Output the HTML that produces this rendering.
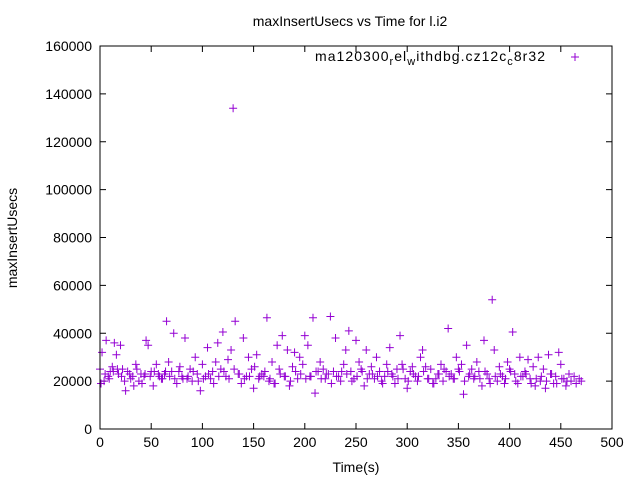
<!DOCTYPE html>
<html><head><meta charset="utf-8"><style>
body{margin:0;background:#fff}
svg{display:block;font-family:"Liberation Sans",sans-serif}
</style></head><body>
<svg id="chart" width="640" height="480" viewBox="0 0 640 480">
<text x="350" y="26" font-size="14" text-anchor="middle">maxInsertUsecs vs Time for l.i2</text>
<text transform="translate(17,238) rotate(-90)" font-size="14" text-anchor="middle">maxInsertUsecs</text>
<text x="356" y="472" font-size="14" text-anchor="middle">Time(s)</text>
<g id="axes"></g>
<g id="points"></g>
<g>
<text x="315" y="61" font-size="14" textLength="230" lengthAdjust="spacing">ma120300<tspan font-size="11" dy="4">r</tspan><tspan dy="-4">el</tspan><tspan font-size="11" dy="4">w</tspan><tspan dy="-4">ithdbg.cz12c</tspan><tspan font-size="11" dy="4">c</tspan><tspan dy="-4">8r32</tspan></text>
<path d="M571 57h8M575 53v8" stroke="#9400d3" stroke-width="1"/>
</g>
<rect x="100" y="46" width="512" height="383" fill="none" stroke="#000" stroke-width="1"/>
</svg>
<script>
const xTicks=[0,50,100,150,200,250,300,350,400,450,500];
const yTicks=[0,20000,40000,60000,80000,100000,120000,140000,160000];
const times=[0,2,4,6,8,10,12,14,16,18,20,22,25,27,30,33,35,38,40,43,45,47,50,52,55,58,60,63,65,67,70,72,75,78,80,83,85,88,90,93,95,98,100,103,105,108,110,113,115,118,120,123,125,128,130,132,135,138,140,143,145,148,150,153,155,158,160,163,165,168,170,173,175,178,180,183,185,188,190,193,195,198,200,203,205,208,210,213,215,218,220,223,225,228,230,233,235,238,240,243,245,248,250,253,255,258,260,263,265,268,270,273,275,278,280,283,285,288,290,293,295,298,300,303,305,308,310,313,315,318,320,323,325,328,330,333,335,338,340,343,345,348,350,353,355,358,360,363,365,368,370,373,375,378,380,383,385,388,390,393,395,398,400,403,405,408,410,413,415,418,420,423,425,428,430,433,435,438,440,443,445,448,450,453,455,458,460,463,465,468,470,
1,5,9,13,17,21,24,29,32,36,41,44,49,53,57,61,64,68,73,77,81,86,91,96,101,106,111,116,121,126,131,136,141,146,151,156,161,166,171,176,181,186,191,196,201,206,211,216,221,226,231,236,241,246,251,256,261,266,271,276,281,286,291,296,301,306,311,316,321,326,331,336,341,346,351,356,361,366,371,376,381,386,391,396,401,406,411,416,421,426,431,436,441,446,451,456,461,466];
const values=[25000,32000,20000,37000,22000,24000,26000,36000,31000,23000,35000,25000,16000,24000,21000,18000,27000,20000,23000,22000,37000,35000,24000,18000,27000,22000,21000,23000,45000,28000,24000,40000,19000,26000,22000,38000,21000,25000,20000,30000,23000,16000,27000,22000,34000,21000,24000,28000,36000,25000,40500,22000,29000,33000,134000,45000,23000,19000,38000,22000,30000,25000,17000,31000,21000,23000,22000,46500,20000,28000,19000,35000,25000,39000,22000,33000,18000,26000,32000,21000,30000,27000,39000,35000,22000,46500,15000,24000,28000,25000,21000,23000,47000,24000,38000,22000,20000,27000,33000,41000,24000,21000,37000,28000,25000,18000,33000,23000,26000,21000,30000,24000,20000,22000,27000,34000,23000,19000,25000,39000,27000,21000,17000,24000,26000,22000,20000,30000,33000,26000,21000,25000,19000,21000,23000,27000,20000,24000,42000,23000,21000,30000,25000,27000,14500,35000,22000,25000,21000,28000,24000,18000,37000,23000,21000,54000,33000,20000,26000,22000,19000,28000,25000,40500,23000,19000,30000,22000,24000,29000,21000,26000,18000,30000,20000,25000,17000,31000,23000,19000,22000,32000,27000,21000,18000,23000,20000,22000,19000,21000,20000,
19000,23000,21000,24000,25000,22000,20000,23000,22000,25000,19000,23000,22000,24000,23000,21000,24000,22000,21000,24000,21000,22000,24000,20000,21000,23000,19000,22000,24000,21000,25000,23000,21000,22000,26000,22000,24000,21000,19000,23000,22000,20000,24000,23000,21000,22000,24000,21000,23000,19000,22000,24000,23000,20000,22000,24000,21000,23000,22000,19000,24000,22000,21000,25000,20000,23000,22000,24000,21000,19000,23000,25000,22000,21000,24000,20000,23000,22000,21000,24000,19000,22000,23000,21000,24000,20000,22000,23000,19000,21000,22000,20000,23000,19000,21000,20000];
const NS='http://www.w3.org/2000/svg';
const L=100,R=612,T=46,B=429;
function xs(v){return L+(v-0)/(500-0)*(R-L);}
function ys(v){return B-(v-0)/(160000-0)*(B-T);}
const axes=document.getElementById('axes');
xTicks.forEach(t=>{
  const x=xs(t);
  const p=document.createElementNS(NS,'path');
  p.setAttribute('d',`M${x} ${B}v-6M${x} ${T}v6`);
  p.setAttribute('stroke','#000');
  
  
  axes.appendChild(p);
  const tx=document.createElementNS(NS,'text');
  tx.setAttribute('x',x);tx.setAttribute('y',B+18);
  tx.setAttribute('font-size','14');tx.setAttribute('text-anchor','middle');
  tx.textContent=t;
  
  
  axes.appendChild(tx);
});
yTicks.forEach(t=>{
  const y=ys(t);
  const p=document.createElementNS(NS,'path');
  p.setAttribute('d',`M${L} ${y}h6M${R} ${y}h-6`);
  p.setAttribute('stroke','#000');
  
  
  axes.appendChild(p);
  const tx=document.createElementNS(NS,'text');
  tx.setAttribute('x',L-8);tx.setAttribute('y',y+5);
  tx.setAttribute('font-size','14');tx.setAttribute('text-anchor','end');
  tx.textContent=t;
  
  
  axes.appendChild(tx);
});
const pts=document.getElementById('points');
times.forEach((t,i)=>{
  const x=xs(t),y=ys(values[i]);
  const p=document.createElementNS(NS,'path');
  p.setAttribute('d',`M${x-4} ${y}h8M${x} ${y-4}v8`);
  p.setAttribute('stroke','#9400d3');
  p.setAttribute('stroke-width','1');
  
  
  pts.appendChild(p);
});
</script>
</body></html>
